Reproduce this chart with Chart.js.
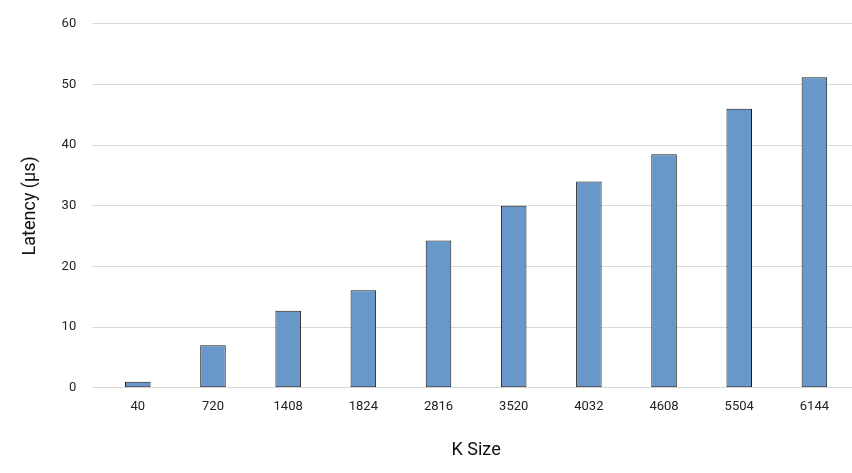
<!DOCTYPE html>
<html><head><meta charset="utf-8">
<script src="https://cdn.jsdelivr.net/npm/chart.js@4"></script>
<style>html,body{margin:0;padding:0;background:#fff}#w{width:852px;height:473px}</style>
</head><body><div id="w"><canvas id="c"></canvas></div>
<script>
const categories = ["40","720","1408","1824","2816","3520","4032","4608","5504","6144"];
const latency = [1.0, 7.0, 12.7, 16.1, 24.3, 30.0, 34.0, 38.5, 46.0, 51.2];
const yTicks = [0,10,20,30,40,50,60];
const F = "'Liberation Sans Narrow','Roboto','DejaVu Sans',sans-serif";
new Chart(document.getElementById('c'), {
  type: 'bar',
  data: { labels: categories, datasets: [{ data: latency, backgroundColor: '#6897c9', borderColor: '#1a1a1a', borderWidth: 1, borderSkipped: false, categoryPercentage: 1, barPercentage: 0.34 }] },
  options: {
    responsive: true, maintainAspectRatio: false, animation: false,
    layout: { padding: { left: 16, right: 0, top: 20, bottom: 8 } },
    plugins: { legend: { display: false }, tooltip: { enabled: false } },
    scales: {
      x: { grid: { display: false }, border: { display: false },
           ticks: { color: '#222', font: { family: F, size: 13 } },
           title: { display: true, text: 'K Size', color: '#111', font: { family: F, size: 18 }, padding: { top: 22 } } },
      y: { min: 0, max: 60, afterBuildTicks: a => { a.ticks = yTicks.map(v => ({ value: v })); },
           grid: { color: '#d9d9d9' }, border: { display: false },
           ticks: { color: '#222', padding: 16, font: { family: F, size: 13 } },
           title: { display: true, text: 'Latency (µs)', color: '#111', font: { family: F, size: 18 }, padding: { bottom: 4 } } }
    }
  }
});
</script></body></html>
